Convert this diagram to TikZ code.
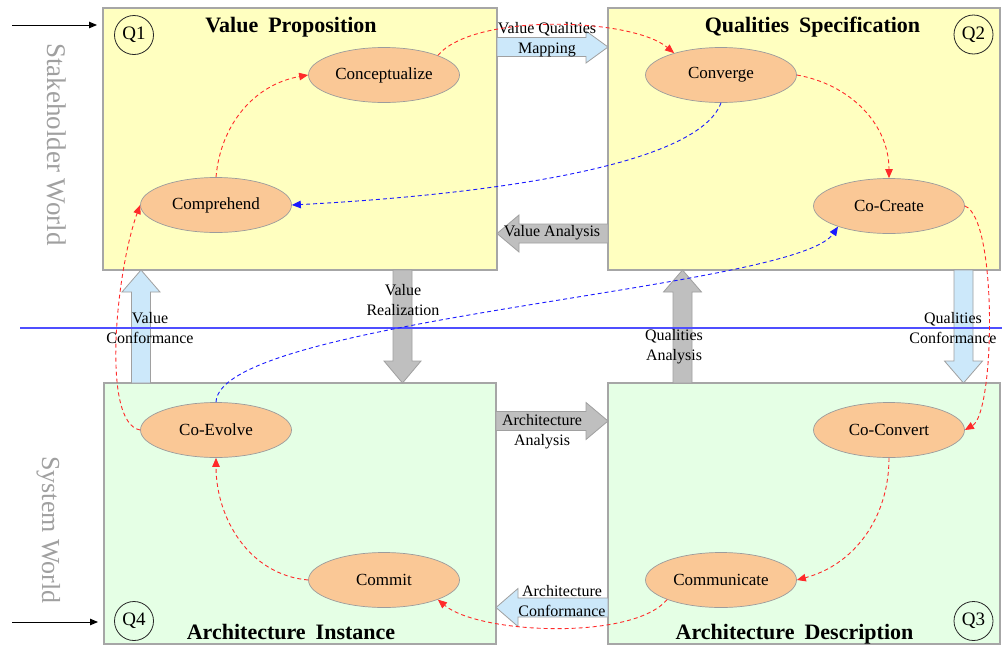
\documentclass[tikz,border=0pt]{standalone}
\usepackage{fontspec}
\setmainfont{Liberation Serif}
\usetikzlibrary{arrows.meta,calc,shapes.geometric}

\definecolor{boxyellow}{HTML}{FFFFC0}
\definecolor{boxgreen}{HTML}{E5FFE5}
\definecolor{boxgray}{HTML}{A6A6A6}
\definecolor{peach}{HTML}{FAC896}
\definecolor{ellgray}{HTML}{9C9C9C}
\definecolor{paleblue}{HTML}{CCE8FA}
\definecolor{midgray}{HTML}{BFBFBF}
\definecolor{arrowedge}{HTML}{A0A0A0}
\definecolor{flowred}{HTML}{FF2A2A}
\definecolor{flowblue}{HTML}{1A1AFF}
\definecolor{divblue}{HTML}{4F4FFF}
\definecolor{worldgray}{HTML}{A0A0A0}

% bold quadrant titles with wide word spacing
\newcommand\quadtitlefont{\fontsize{22}{26}\selectfont\bfseries\spaceskip 10pt\relax}

% Wide block arrow from #2 (tail) to #3 (tip); #4 = half width of the head
\newcommand\blockarrow[4]{%
  \coordinate (ba-base) at ($(#3)!22pt!(#2)$);
  \draw[#1] ($(#2)!9.5pt!90:(#3)$) -- ($(ba-base)!9.5pt!90:(#3)$)
    -- ($(ba-base)!#4!90:(#3)$) -- (#3) -- ($(ba-base)!#4!-90:(#3)$)
    -- ($(ba-base)!9.5pt!-90:(#3)$) -- ($(#2)!9.5pt!-90:(#3)$) -- cycle;
}

\begin{document}
\begin{tikzpicture}[x=1pt,y=1pt,
  quad/.style={draw=boxgray, line width=1.3pt, inner sep=0pt, outer sep=0pt, anchor=north west},
  act/.style={ellipse, draw=ellgray, line width=0.7pt, fill=peach,
    minimum width=151pt, minimum height=55pt, inner sep=0pt,
    font=\fontsize{17}{20}\selectfont},
  qtag/.style={circle, draw=black!85, line width=0.8pt, minimum size=39pt,
    inner sep=0pt, font=\fontsize{19}{21}\selectfont},
  title/.style={font=\quadtitlefont, anchor=base, inner sep=0pt},
  lbl/.style={align=center, font=\fontsize{16}{20}\selectfont, inner sep=0pt},
  world/.style={rotate=-90, anchor=base, text=worldgray, inner sep=0pt},
  lightarrow/.style={fill=paleblue, draw=arrowedge, line width=0.8pt},
  grayarrow/.style={fill=midgray, draw=arrowedge, line width=0.8pt},
  flow/.style={draw=flowred, line width=0.9pt, dash pattern=on 4pt off 3pt,
    -{Triangle[length=9pt,width=7.5pt]}},
  backflow/.style={flow, draw=flowblue},
  entry/.style={draw=black, line width=0.9pt, -{Triangle[length=8pt,width=6.5pt]}, shorten >=6pt},
  divider/.style={draw=divblue, line width=1.2pt}
]
\useasboundingbox (0,0) rectangle (1002,-646);
\fill[white] (0,0) rectangle (1002,-646);

% the four quadrants
\node[quad, fill=boxyellow, minimum width=394pt, minimum height=262pt] (q1) at (103,-8) {};
\node[quad, fill=boxyellow, minimum width=392pt, minimum height=262pt] (q2) at (608,-8) {};
\node[quad, fill=boxgreen, minimum width=392pt, minimum height=261pt] (q4) at (104,-383) {};
\node[quad, fill=boxgreen, minimum width=392pt, minimum height=261pt] (q3) at (608,-383) {};

% end points of the block arrows between quadrants
\coordinate (vqmT) at ([yshift=-39pt]q1.north east);
\coordinate (vqmH) at ([yshift=-39pt]q2.north west);
\coordinate (vaT)  at ([yshift=-225.5pt]q2.north west);
\coordinate (vaH)  at ([yshift=-225.5pt]q1.north east);
\coordinate (vrT)  at ([xshift=299.5pt]q1.south west);
\coordinate (vrH)  at ([xshift=298.5pt]q4.north west);
\coordinate (qaT)  at ([xshift=74.5pt]q3.north west);
\coordinate (qaH)  at ([xshift=74.5pt]q2.south west);
\coordinate (qcT)  at ([xshift=-36.5pt]q2.south east);
\coordinate (qcH)  at ([xshift=-36.5pt]q3.north east);
\coordinate (vcT)  at ([xshift=37pt]q4.north west);
\coordinate (vcH)  at ([xshift=38pt]q1.south west);
\coordinate (aaT)  at ([yshift=-38pt]q4.north east);
\coordinate (aaH)  at ([yshift=-38pt]q3.north west);
\coordinate (acT)  at ([yshift=-224.5pt]q3.north west);
\coordinate (acH)  at ([yshift=-224.5pt]q4.north east);

\blockarrow{lightarrow}{vqmT}{vqmH}{16pt}
\blockarrow{grayarrow}{vaT}{vaH}{18.5pt}
\blockarrow{grayarrow}{vrT}{vrH}{18.5pt}
\blockarrow{grayarrow}{qaT}{qaH}{19pt}
\blockarrow{lightarrow}{qcT}{qcH}{19pt}
\blockarrow{lightarrow}{vcT}{vcH}{19pt}
\blockarrow{grayarrow}{aaT}{aaH}{18.5pt}
\blockarrow{lightarrow}{acT}{acH}{19pt}

% stakeholder / system divide
\coordinate (divL) at (20,-328);
\coordinate (divR) at (1002,-328);
\draw[divider] (divL) -- (divR);

% entry arrows on the left
\coordinate (in1) at (12,-25);
\coordinate (in4) at (12,-622);
\draw[entry] (in1) -- (in1 -| q1.west);
\draw[entry] (in4) -- (in4 -| q4.west);

% world captions
\node[world, font=\fontsize{27}{30}\selectfont] (sw) at (47,-144.5) {Stakeholder World};
\node[world, font=\fontsize{26}{30}\selectfont] (sysw) at (42,-530) {System World};

% quadrant titles and tags
\node[title] (ttl1) at (291,-32) {Value Proposition};
\node[title] (ttl2) at (812.5,-32) {Qualities Specification};
\node[title] (ttl4) at (291,-639) {Architecture Instance};
\node[title] (ttl3) at (794.5,-639) {Architecture Description};
\node[qtag] (t1) at (134,-35) {Q1};
\node[qtag] (t2) at (973.5,-34.5) {Q2};
\node[qtag] (t3) at (973.5,-621) {Q3};
\node[qtag] (t4) at (134,-621) {Q4};

% block arrow labels
\node[lbl] (lvqm) at (547,-40) {Value Qualities\\Mapping};
\node[lbl] (lva)  at (552,-233) {Value Analysis};
\node[lbl] (lvr)  at (403,-300) {Value\\Realization};
\node[lbl] (lqa)  at (674,-347) {Qualities\\Analysis};
\node[lbl] (lqc)  at (953,-328) {Qualities\\Conformance};
\node[lbl] (lvc)  at (150,-328) {Value\\Conformance};
\node[lbl] (laa)  at (542,-432) {Architecture\\Analysis};
\node[lbl] (lac)  at (562,-601.5) {Architecture\\Conformance};

% activities
\node[act] (conc) at (384,-75) {Conceptualize};
\node[act] (comp) at (216,-205) {Comprehend};
\node[act] (conv) at (721,-75) {Converge};
\node[act] (cocr) at (889,-206) {Co-Create};
\node[act] (cocv) at (889,-430) {Co-Convert};
\node[act] (comm) at (721,-580) {Communicate};
\node[act] (cmt)  at (384,-580) {Commit};
\node[act] (coev) at (216,-430) {Co-Evolve};

% activity cycle
\draw[flow] (comp.north) to[out=85, in=190] (conc.west);
\draw[flow] (conc.20) to[out=50, in=140, looseness=0.6] (conv.155);
\draw[flow] (conv.east) to[out=-10, in=90] (cocr.north);
\draw[flow] (cocr.east) to[out=-20, in=30, looseness=0.4] (cocv.east);
\draw[flow] (cocv.south) to[out=-90, in=15] (comm.east);
\draw[flow] (comm.200) to[out=-130, in=-40, looseness=0.6] (cmt.340);
\draw[flow] (cmt.west) to[out=175, in=-90] (coev.south);
\draw[flow] (coev.west) to[out=170, in=-110, out distance=40pt, in distance=70pt] (comp.west);

% feedback links
\draw[backflow] (conv.south) to[out=-110, in=3, out distance=70pt, in distance=180pt] (comp.east);
\draw[backflow] (coev.north) to[out=88, in=236, out distance=83pt, in distance=76pt] (cocr.202);
\end{tikzpicture}
\end{document}
